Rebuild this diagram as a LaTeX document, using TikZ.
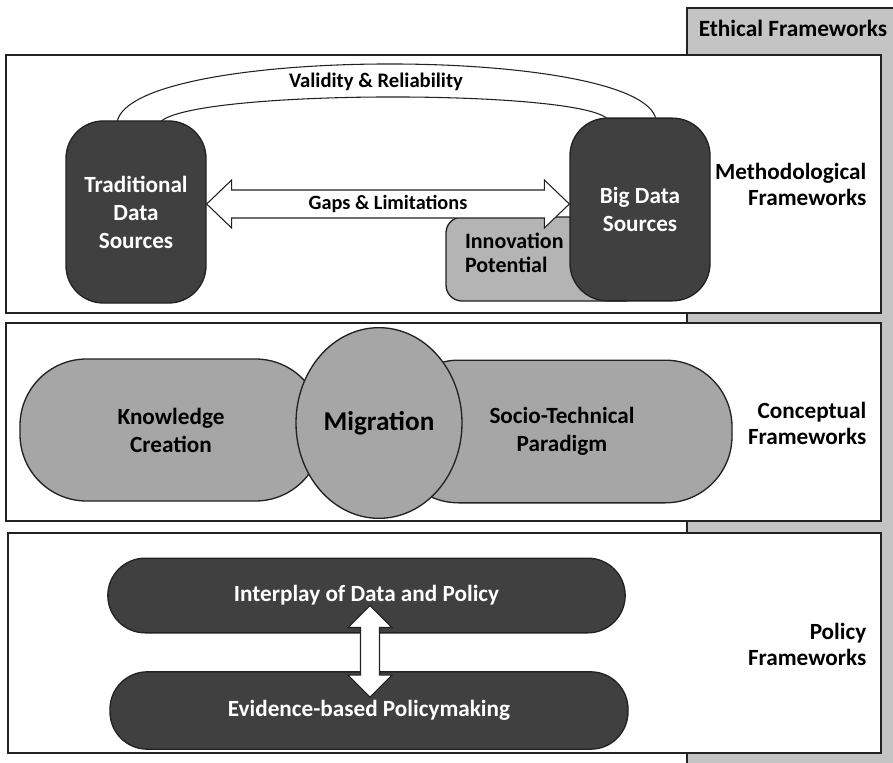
\documentclass[tikz,border=0pt]{standalone}
\usepackage{fontspec}
\setmainfont{Carlito}
\usepackage{tikz}
\usetikzlibrary{shapes.geometric,positioning,calc}
\pgfdeclarelayer{back}
\pgfdeclarelayer{band}
\pgfsetlayers{back,band,main}
\definecolor{darkfill}{HTML}{404040}
\definecolor{midfill}{HTML}{A6A6A6}
\definecolor{lightfill}{HTML}{B4B4B4}
\definecolor{ethfill}{HTML}{C4C4C4}
\definecolor{edge}{HTML}{222222}

\begin{document}
\begin{tikzpicture}[x=0.75pt, y=-0.75pt,
    panel/.style={draw=edge, line width=1.2pt, fill=white},
    boxtext/.style={align=center, font=\fontsize{17.4}{21}\selectfont\bfseries},
    darkbox/.style={boxtext, draw=edge, line width=1pt, fill=darkfill, text=white, inner sep=0pt},
    greybox/.style={boxtext, draw=edge, line width=1pt, fill=midfill, inner sep=0pt},
    sidelabel/.style={anchor=east, align=right, font=\fontsize{17.4}{19.5}\selectfont\bfseries},
    fatarrow/.style={draw=edge, line width=0.8pt, fill=white, line join=miter}]
    \useasboundingbox (0,0) rectangle (893,763);

    \begin{pgfonlayer}{back}
    \draw[draw=edge, fill=ethfill, line width=1.2pt] (687,8) rectangle (900,770);
    \draw[panel] (6,55) rectangle (881,313);
    \draw[panel] (6,323) rectangle (881,521);
    \draw[panel] (8,533) rectangle (881,753);
    \end{pgfonlayer}
    \node[font=\fontsize{17.5}{20}\selectfont\bfseries] (eth) at (793,28) {Ethical Frameworks};

    \node[draw=edge, line width=1pt, fill=lightfill, rounded corners=12pt, minimum width=145.5pt, minimum height=63pt] (innov) at (543,259) {};
    \node[anchor=west, align=left, font=\fontsize{16.5}{18}\selectfont\bfseries] (innovtext) at ($(innov.west)+(15,-6)$) {Innovation\\Potential};
    \node[darkbox, minimum width=105pt, minimum height=136.5pt, rounded corners=28pt] (trad) at (136,212) {Traditional\\Data\\Sources};
    \node[darkbox, minimum width=105pt, minimum height=137pt, rounded corners=28pt] (big) at (640,209.5) {Big Data\\Sources};

    \begin{pgfonlayer}{band}
    \draw[draw=edge, fill=white, line width=0.8pt]
        ($(trad.north)+(-19,2)$) .. controls (130,45) and (642,45) .. ($(big.north)+(16,2)$)
        -- ($(big.north)+(-32,2)$) .. controls (583,89) and (190,89) .. ($(trad.north)+(24,2)$) -- cycle;
    \end{pgfonlayer}
    \node[font=\fontsize{15.5}{18}\selectfont\bfseries] (valid) at (376,82) {Validity \& Reliability};

    \coordinate (gl) at ($(trad.east)+(0,-8)$);
    \coordinate (gr) at ($(big.west)+(0,-5.5)$);
    \draw[fatarrow] (gl) -- ++(25,-24) -- ++(0,10) -- ($(gr)+(-25,-14)$) -- ++(0,-10) -- (gr)
        -- ++(-25,24) -- ++(0,-10) -- ($(gl)+(25,14)$) -- ++(0,10) -- cycle;
    \node[font=\fontsize{15.2}{18}\selectfont\bfseries] (gaps) at ($(gl)!0.5!(gr)$) {Gaps \& Limitations};

    \node[sidelabel] (methlab) at (871,184) {Methodological\\Frameworks};

    \node[greybox, minimum width=226.5pt, minimum height=106.5pt, rounded corners=50pt] (know) at (171,430) {Knowledge\\Creation};
    \node[greybox, minimum width=255pt, minimum height=107pt, rounded corners=50pt, text width=150pt] (socio) at (562,431.5) {Socio-Technical\\Paradigm};
    \node[greybox, ellipse, minimum width=124.5pt, minimum height=143pt, font=\fontsize{20.4}{24}\selectfont\bfseries] (migr) at (379,423) {Migration};
    \node[sidelabel] (conclab) at (871,423) {Conceptual\\Frameworks};

    \node[darkbox, minimum width=388pt, minimum height=56pt, rounded corners=28pt] (inter) at (366.5,595.5) {Interplay of Data and Policy};
    \node[darkbox, minimum width=388.5pt, minimum height=58pt, rounded corners=28pt] (evid) at (369,710.5) {Evidence-based Policymaking};
    \coordinate (lt) at ($(inter.south)+(3.5,-28)$);
    \coordinate (lb) at ($(evid.north)+(1,26)$);
    \draw[fatarrow] (lt) -- ++(22,22) -- ++(-12.5,0) -- ($(lb)+(9.5,-22)$) -- ++(12.5,0) -- (lb)
        -- ++(-22,-22) -- ++(12.5,0) -- ($(lt)+(-9.5,22)$) -- ++(-12.5,0) -- cycle;
    \node[sidelabel] (pollab) at (871,644) {Policy\\Frameworks};
\end{tikzpicture}
\end{document}
